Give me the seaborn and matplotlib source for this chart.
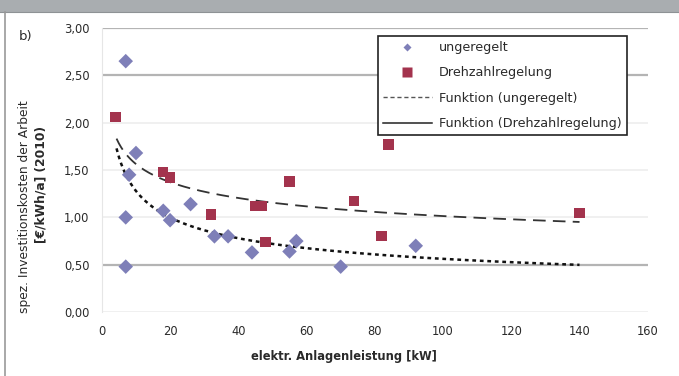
import numpy as np
import pandas as pd
import matplotlib
matplotlib.use("Agg")
import matplotlib.pyplot as plt
from matplotlib.lines import Line2D
from matplotlib.patches import Rectangle
import seaborn as sns

# Measured plants without speed control
ungeregelt_kw = [7, 10, 8, 7, 7, 18, 20, 26, 33, 37, 44, 55, 57, 70, 92]
ungeregelt_cost = [2.65, 1.68, 1.45, 1.00, 0.48, 1.07, 0.97, 1.14, 0.80, 0.80,
                   0.63, 0.64, 0.75, 0.48, 0.70]

# Measured plants with speed control
regelung_kw = [4, 18, 20, 32, 45, 47, 48, 55, 74, 82, 84, 140]
regelung_cost = [2.06, 1.48, 1.42, 1.03, 1.12, 1.12, 0.74, 1.38, 1.17, 0.80,
                 1.77, 1.05]

# Power-law trend functions y = a * x^b
fit_ungeregelt = (2.91, -0.357)
fit_regelung = (2.41, -0.188)
fit_range = (4.3, 140)

x_ticks = [0, 20, 40, 60, 80, 100, 120, 140, 160]
y_ticks = [0.0, 0.5, 1.0, 1.5, 2.0, 2.5, 3.0]

plt.rcParams["font.family"] = ["DejaVu Sans"]

df = pd.concat([
    pd.DataFrame({"kW": ungeregelt_kw, "cost": ungeregelt_cost, "Typ": "ungeregelt"}),
    pd.DataFrame({"kW": regelung_kw, "cost": regelung_cost, "Typ": "Drehzahlregelung"}),
], ignore_index=True)

col_u = "#7E7FB8"
col_r = "#A3334D"
txt = "#2A2A2A"

fig = plt.figure(figsize=(6.79, 3.76), dpi=100)
ax = fig.add_axes([0.150, 0.170, 0.804, 0.7555])

# Trend curves
xf = np.linspace(fit_range[0], fit_range[1], 200)
ax.plot(xf, fit_ungeregelt[0] * xf ** fit_ungeregelt[1], color="#111111",
        lw=1.8, ls=(0, (1.5, 1.5)), zorder=2)
ax.plot(xf, fit_regelung[0] * xf ** fit_regelung[1], color="#333333",
        lw=1.3, ls=(0, (7, 4)), zorder=2)

sns.scatterplot(data=df, x="kW", y="cost", hue="Typ", style="Typ",
                palette={"ungeregelt": col_u, "Drehzahlregelung": col_r},
                markers={"ungeregelt": "D", "Drehzahlregelung": "s"},
                s=55, edgecolor="none", legend=False, ax=ax, zorder=3)

ax.set_xlim(0, 160)
ax.set_ylim(0, 3.0)
ax.set_xticks(x_ticks)
ax.set_xticklabels([str(t) for t in x_ticks])
ax.set_yticks(y_ticks)
ax.set_yticklabels([f"{t:.2f}".replace(".", ",") for t in y_ticks])
ax.tick_params(axis="y", length=0, labelsize=8.3, colors=txt, pad=9)
ax.tick_params(axis="x", length=0, labelsize=8.3, colors=txt, pad=9)

# Horizontal grid
strong = {3.0, 2.5, 0.5}
for t in y_ticks:
    if t in strong:
        ax.axhline(t, color="#B4B4B4", lw=1.6, zorder=1)
    else:
        ax.axhline(t, color="#EEEEEE", lw=1.2, zorder=1)

for s in ["top", "right", "bottom"]:
    ax.spines[s].set_visible(False)
ax.spines["left"].set_color("#E6E6E6")

ax.set_xlabel("elektr. Anlagenleistung [kW]", fontsize=8.3, fontweight="bold",
              color=txt)
ax.xaxis.set_label_coords(0.443, -0.135)
ax.set_ylabel("")

# Two-line y axis title, second line in bold
fig.text(0.036, 0.45, "spez. Investitionskosten der Arbeit", rotation=90,
         ha="center", va="center", fontsize=8.8, color=txt)
fig.text(0.060, 0.51, "[€/kWh/a] (2010)", rotation=90, ha="center",
         va="center", fontsize=8.8, fontweight="bold", color=txt)

handles = [
    Line2D([], [], marker="D", color="none", markerfacecolor=col_u,
           markeredgecolor="none", markersize=4.5),
    Line2D([], [], marker="s", color="none", markerfacecolor=col_r,
           markeredgecolor="none", markersize=7),
    Line2D([], [], color="#555555", lw=1, ls=(0, (3, 2))),
    Line2D([], [], color="#222222", lw=1.1),
]
labels = ["ungeregelt", "Drehzahlregelung", "Funktion (ungeregelt)",
          "Funktion (Drehzahlregelung)"]
leg = ax.legend(handles, labels, loc="upper left",
                bbox_to_anchor=(0.506, 0.972), fontsize=9.2, frameon=True,
                fancybox=False, edgecolor="#222222", framealpha=1,
                borderpad=0.4, labelspacing=0.97, handlelength=3.8,
                handletextpad=0.55, borderaxespad=0)
leg.get_frame().set_linewidth(1.2)
for t in leg.get_texts():
    t.set_color(txt)

fig.text(0.027, 0.893, "b)", fontsize=9.5, color=txt)

# Page decoration: grey header band and left border
fig.add_artist(Rectangle((0, 0.968), 1, 0.032, transform=fig.transFigure,
                         facecolor="#A9ADB0", edgecolor="none"))
fig.add_artist(Line2D([0, 1], [0.968, 0.968], transform=fig.transFigure,
                      color="#8E9295", lw=0.8))
fig.add_artist(Line2D([0.008, 0.008], [0, 0.968], transform=fig.transFigure,
                      color="#999999", lw=1.2))

fig.savefig("out.png", dpi=100)
